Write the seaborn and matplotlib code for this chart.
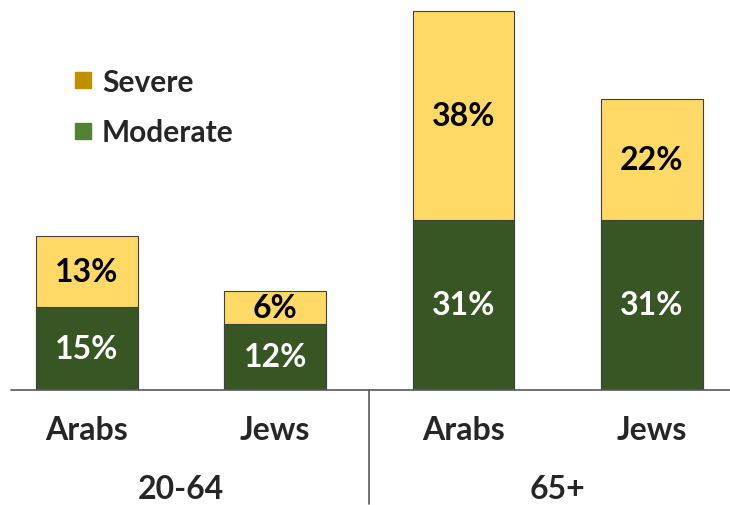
import matplotlib
matplotlib.use("Agg")
import matplotlib.pyplot as plt
from matplotlib.lines import Line2D
import pandas as pd
import seaborn as sns

# chart values
age_groups = ["20-64", "20-64", "65+", "65+"]
populations = ["Arabs", "Jews", "Arabs", "Jews"]
moderate = [15, 12, 31, 31]
severe = [13, 6, 38, 22]

df = pd.DataFrame({"age": age_groups, "pop": populations,
                   "moderate": moderate, "severe": severe})
df["key"] = df["pop"] + " " + df["age"]
df["total"] = df["moderate"] + df["severe"]

sns.set_style("white")
plt.rcParams["font.family"] = ["Lato", "DejaVu Sans"]

yellow = "#FFD966"
green = "#375623"
leg_severe = "#BF8F00"
leg_moderate = "#548235"
edge = "#404040"

fig = plt.figure(figsize=(7.3, 5.06), dpi=100)
ax = fig.add_axes([0, 0.2273, 1, 0.7727])

# total bar (severe on top) then moderate over it
sns.barplot(data=df, x="key", y="total", color=yellow, width=0.54,
            edgecolor=edge, linewidth=0.8, saturation=1, ax=ax)
sns.barplot(data=df, x="key", y="moderate", color=green, width=0.54,
            edgecolor=edge, linewidth=0.8, saturation=1, ax=ax)

ax.set_xlim(-0.462, 3.415)
ax.set_ylim(0, 71.1)
ax.set_xticks([])
ax.set_yticks([])
ax.set_xlabel("")
ax.set_ylabel("")
sns.despine(ax=ax, left=True, bottom=True)

# baseline and group separator
ax.axhline(0, xmin=11 / 730, xmax=1, color="#595959", lw=1.2, clip_on=False)
ax.plot([1.5, 1.5], [0, -20.7], color="#595959", lw=1.2, clip_on=False)

for i, row in df.iterrows():
    ax.text(i, row["moderate"] / 2, f"{row['moderate']}%", ha="center", va="center",
            color="white", fontsize=23, fontweight="bold")
    ax.text(i, row["moderate"] + row["severe"] / 2, f"{row['severe']}%", ha="center",
            va="center", color="black", fontsize=23, fontweight="bold")
    ax.text(i, -7.1, row["pop"], ha="center", va="center", fontsize=23,
            fontweight="bold", clip_on=False)

for j, grp in enumerate(["20-64", "65+"]):
    ax.text(2 * j + 0.5, -18.0, grp, ha="center", va="center", fontsize=23,
            fontweight="bold", clip_on=False)

handles = [Line2D([], [], marker="s", ls="", markersize=11.5, color=leg_severe),
           Line2D([], [], marker="s", ls="", markersize=11.5, color=leg_moderate)]
fig.legend(handles, ["Severe", "Moderate"], loc="upper left",
           bbox_to_anchor=(0.056, 0.917), frameon=False, handletextpad=0.15,
           labelspacing=0.75, handlelength=1.0, prop={"size": 21.5, "weight": "bold"})

fig.savefig("out.png", dpi=100)
